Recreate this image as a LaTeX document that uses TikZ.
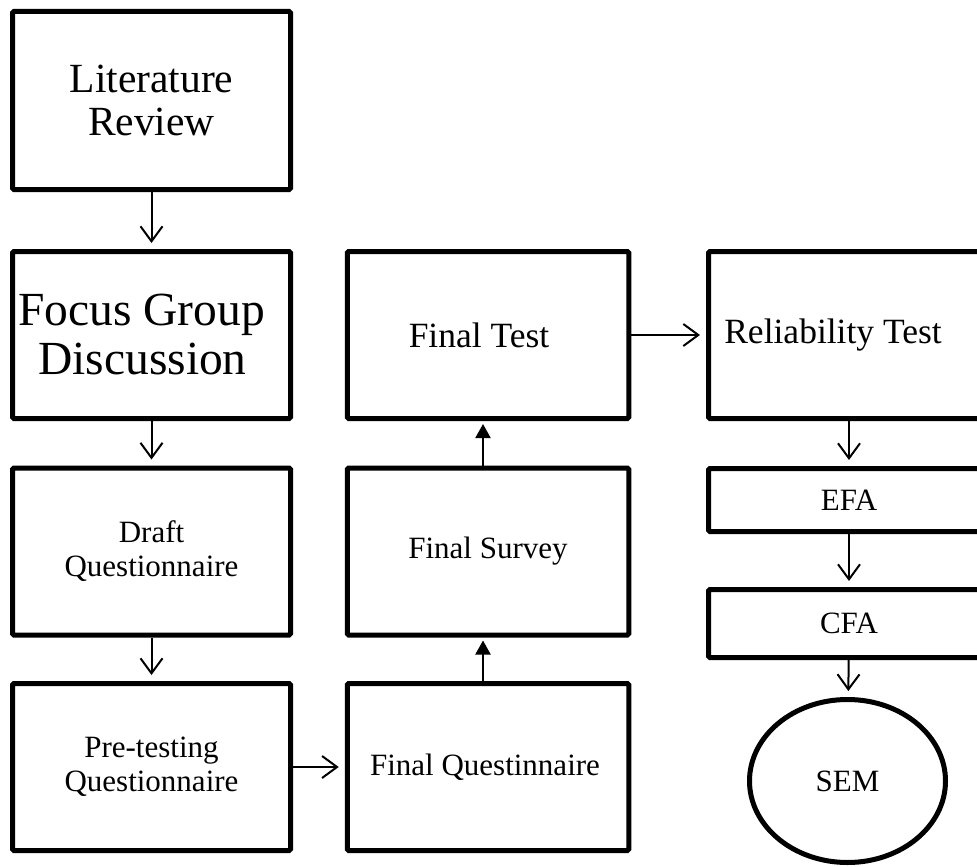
\documentclass[tikz,border=0pt]{standalone}
\usepackage{fontspec}
\setmainfont{Liberation Serif}
\usetikzlibrary{arrows.meta,shapes.geometric}
% pad the right side of a line so that it sits left of the box centre
\newcommand\padright[2]{#2\hspace*{#1}}
\begin{document}
\begin{tikzpicture}[x=1pt,y=-1pt,
  box/.style={draw, line width=5pt, rounded corners=1.5pt, align=center,
    inner sep=0pt, font=\fontsize{31}{34}\selectfont},
  colL/.style={box, minimum width=278pt},
  colM/.style={box, minimum width=281.5pt},
  colR/.style={box, minimum width=281pt},
  tall/.style={minimum height=167pt},
  mid/.style={font=\fontsize{35.5}{38}\selectfont},
  flow/.style={line width=2pt,
    -{Straight Barb[length=15pt,width=22pt,line width=2pt]}, shorten >=6pt},
  push/.style={line width=2pt, -{Triangle[length=14pt,width=15pt]}, shorten >=3pt}]
\clip (0,0) rectangle (977,867);

% left column
\node[colL, minimum height=178pt, font=\fontsize{41.5}{43}\selectfont]
  (lit) at (151.5,100.5) {Literature\\Review};
\node[colL, tall, font=\fontsize{47.5}{49}\selectfont]
  (fgd) at (151.5,335) {\padright{20pt}{Focus Group}\\\padright{18pt}{Discussion}};
\node[colL, tall] (draft) at (151.5,551.5) {Draft\\Questionnaire};
\node[colL, tall] (pre) at (151.5,767) {Pre-testing\\Questionnaire};

% middle column
\node[colM, tall] (fq) at (488,767) {\padright{6pt}{Final Questinnaire}};
\node[colM, tall] (fs) at (488,551.5) {Final Survey};
\node[colM, tall, mid] (ft) at (488,335) {\padright{18pt}{Final Test}};

% right column
\node[colR, tall, mid] (rel) at (849,335) {\padright{32pt}{Reliability Test}};
\node[colR, minimum height=63pt] (efa) at (849,500) {EFA};
\node[colR, minimum height=68pt] (cfa) at (849,623.5) {CFA};
\node[draw, ellipse, line width=5pt, inner sep=0pt, minimum width=196pt,
  minimum height=163pt, font=\fontsize{31}{34}\selectfont]
  (sem) at (847.5,781) {SEM};

% connectors
\draw[flow] (lit) -- (fgd);
\draw[flow] (fgd) -- (draft);
\draw[flow] (draft) -- (pre);
\draw[flow] (pre) -- (fq);
\draw[push] ([xshift=-5pt]fq.north) -- ([xshift=-5pt]fs.south);
\draw[push] ([xshift=-5pt]fs.north) -- ([xshift=-5pt]ft.south);
\draw[flow] (ft) -- (rel);
\draw[flow] (rel) -- (efa);
\draw[flow] (efa) -- (cfa);
\draw[flow] (cfa) -- (sem);
\end{tikzpicture}
\end{document}
